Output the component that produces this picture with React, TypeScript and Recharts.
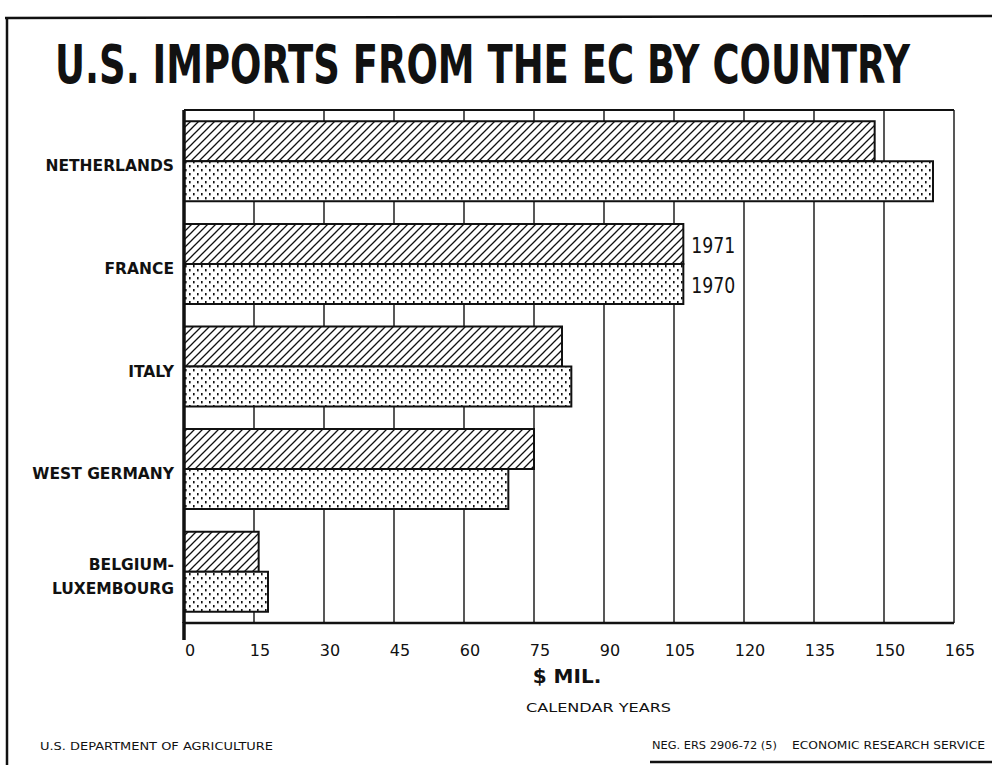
import { BarChart, Bar, XAxis, YAxis, CartesianGrid } from 'recharts';

// values, $ million
const countries = ['NETHERLANDS', 'FRANCE', 'ITALY', 'WEST GERMANY', 'BELGIUM-|LUXEMBOURG'];
const imports1971 = [148, 107, 81, 75, 16];
const imports1970 = [160.5, 107, 83, 69.5, 18];
const xTicks = [0, 15, 30, 45, 60, 75, 90, 105, 120, 135, 150, 165];
const labelRow = 'FRANCE';

const data = countries.map((c, i) => ({ country: c, y1971: imports1971[i], y1970: imports1970[i] }));

const sans = '"DejaVu Sans", Verdana, sans-serif';
const cond = '"DejaVu Sans Condensed", "DejaVu Sans", sans-serif';

function CountryTick({ x, y, payload }: any) {
  const lines = String(payload.value).split('|');
  const lh = 24;
  return (
    <text x={x} y={y + 5} textAnchor="end" dominantBaseline="central" fontFamily={sans} fontWeight={700} fontSize={15.5} fill="#111">
      {lines.map((l, i) => (
        <tspan key={i} x={x} dy={i === 0 ? -((lines.length - 1) * lh) / 2 : lh}>{l}</tspan>
      ))}
    </text>
  );
}

function ValueTick({ x, y, payload }: any) {
  return (
    <text x={x + 6} y={y + 25} textAnchor="middle" dominantBaseline="central" fontFamily={sans} fontSize={16} fill="#111">
      {payload.value}
    </text>
  );
}

const yearLabel = (year: string) => (p: any) => {
  const isRow = p.index === 1 || p.payload?.country === labelRow;
  if (!isRow) return null;
  return (
    <text x={p.x + p.width + 8} y={p.y + p.height / 2 + 2} dominantBaseline="central" fontFamily={sans} fontSize={22}
      textLength={44} lengthAdjust="spacingAndGlyphs" fill="#111">
      {year}
    </text>
  );
};

export default function App() {
  return (
    <div style={{ position: 'relative', width: 992, height: 765, background: '#fff', overflow: 'hidden' }}>
      <style>{'body{margin:0}'}</style>
      <svg width={0} height={0} style={{ position: 'absolute' }}>
        <defs>
          <pattern id="hatch" patternUnits="userSpaceOnUse" width={8} height={8}>
            <rect width={8} height={8} fill="#fff" />
            <path d="M0,8 L8,0 M-2,2 L2,-2 M6,10 L10,6" stroke="#111" strokeWidth={1.3} />
          </pattern>
          <pattern id="dots" patternUnits="userSpaceOnUse" width={8} height={8}>
            <rect width={8} height={8} fill="#fff" />
            <rect x={1} y={1} width={1.6} height={2.4} fill="#111" />
            <rect x={5} y={5} width={1.6} height={2.4} fill="#111" />
          </pattern>
        </defs>
      </svg>

      <div style={{ position: 'absolute', left: 0, top: 0 }}>
        <BarChart width={992} height={765} data={data} layout="vertical"
          margin={{ top: 109, right: 38, bottom: 102, left: 4 }} barCategoryGap="11%" barGap={0}>
          <CartesianGrid vertical horizontal={false} stroke="#111" strokeWidth={1.4} />
          <XAxis type="number" domain={[0, 165]} ticks={xTicks} height={40} tickLine={false} tickSize={0}
            axisLine={{ stroke: '#111', strokeWidth: 2.5 }} tick={<ValueTick />} />
          <XAxis xAxisId="top" orientation="top" type="number" domain={[0, 165]} ticks={xTicks} height={1}
            tickLine={false} tick={false} axisLine={{ stroke: '#111', strokeWidth: 2 }} />
          <YAxis type="category" dataKey="country" width={180} tickLine={false} tickSize={0} tickMargin={10}
            axisLine={{ stroke: '#111', strokeWidth: 3.5 }} tick={<CountryTick />} interval={0} />
          <Bar dataKey="y1971" fill="url(#hatch)" stroke="#111" strokeWidth={2} isAnimationActive={false} label={yearLabel('1971')} />
          <Bar dataKey="y1970" fill="url(#dots)" stroke="#111" strokeWidth={2} isAnimationActive={false} label={yearLabel('1970')} />
        </BarChart>
      </div>

      <svg width={992} height={765} style={{ position: 'absolute', left: 0, top: 0, pointerEvents: 'none' }}>
        <line x1={5} y1={18} x2={992} y2={16} stroke="#111" strokeWidth={2.5} />
        <line x1={7} y1={18} x2={7} y2={765} stroke="#111" strokeWidth={2.5} />
        <line x1={184} y1={110} x2={954} y2={110} stroke="#111" strokeWidth={2} />
        <line x1={184} y1={622} x2={184} y2={640} stroke="#111" strokeWidth={3.5} />
        <text x={55} y={64} transform="scale(1,1.3)" fontFamily={cond} fontWeight={700} fontSize={41}
          textLength={855} lengthAdjust="spacingAndGlyphs" fill="#111">
          U.S. IMPORTS FROM THE EC BY COUNTRY
        </text>
        <text x={567} y={676} textAnchor="middle" dominantBaseline="central" fontFamily={sans} fontWeight={700} fontSize={20} fill="#111">
          $ MIL.
        </text>
        <text x={526} y={707} dominantBaseline="central" fontFamily={sans} fontSize={13} textLength={145} lengthAdjust="spacingAndGlyphs" fill="#111">
          CALENDAR YEARS
        </text>
        <text x={40} y={746} dominantBaseline="central" fontFamily={sans} fontSize={10} textLength={233} lengthAdjust="spacingAndGlyphs" fill="#111">
          U.S. DEPARTMENT OF AGRICULTURE
        </text>
        <text x={652} y={745} dominantBaseline="central" fontFamily={sans} fontSize={10} textLength={125} lengthAdjust="spacingAndGlyphs" fill="#111">
          NEG. ERS 2906-72 (5)
        </text>
        <text x={792} y={745} dominantBaseline="central" fontFamily={sans} fontSize={10} textLength={193} lengthAdjust="spacingAndGlyphs" fill="#111">
          ECONOMIC RESEARCH SERVICE
        </text>
        <line x1={650} y1={762} x2={992} y2={762} stroke="#111" strokeWidth={2.5} />
      </svg>
    </div>
  );
}
